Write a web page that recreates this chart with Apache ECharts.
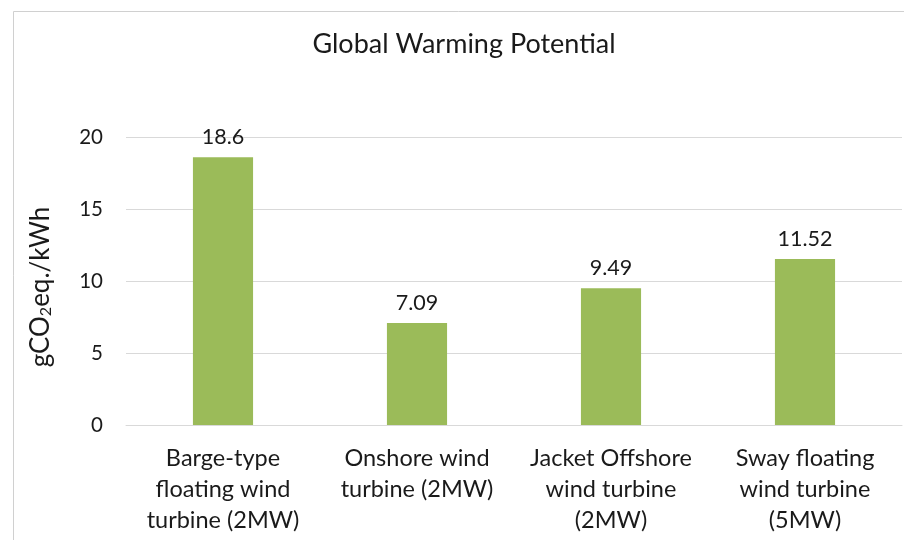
<!DOCTYPE html>
<html>
<head>
<meta charset="utf-8">
<script src="https://cdn.jsdelivr.net/npm/echarts@6/dist/echarts.min.js"></script>
<style>
html,body{margin:0;padding:0;background:#fff;}
#chart{width:904px;height:540px;}
</style>
</head>
<body>
<div id="chart"></div>
<script>
var chartTitle = 'Global Warming Potential';
var yAxisTitle = 'gCO{sub|2}eq./kWh';
var categories = [
  'Barge-type\nfloating wind\nturbine (2MW)',
  'Onshore wind\nturbine (2MW)',
  'Jacket Offshore\nwind turbine\n(2MW)',
  'Sway floating\nwind turbine\n(5MW)'
];
var gwpValues = [18.6, 7.09, 9.49, 11.52];
var gwpLabels = ['18.6', '7.09', '9.49', '11.52'];
var yTicks = [0, 5, 10, 15, 20];

var FONT = 'Lato';
var TXT = '#1a1a1a';
var chart = echarts.init(document.getElementById('chart'), null, {renderer: 'canvas'});
chart.setOption({
  backgroundColor: '#ffffff',
  animation: false,
  title: {
    text: chartTitle,
    left: 459, top: 26,
    textAlign: 'center',
    textStyle: {fontFamily: FONT, fontSize: 27, fontWeight: 'normal', color: TXT}
  },
  graphic: [{
    type: 'polyline',
    shape: {points: [[13.5, 540], [13.5, 11.5], [904, 11.5]]},
    style: {stroke: '#d0d0d0', lineWidth: 1, fill: null},
    silent: true
  }],
  grid: {left: 126, right: 2, top: 137, bottom: 115, containLabel: false},
  xAxis: {
    type: 'category',
    data: categories,
    axisLine: {show: true, lineStyle: {color: '#d9d9d9', width: 1}},
    axisTick: {show: false},
    axisLabel: {
      interval: 0, margin: 18,
      fontFamily: FONT, fontSize: 23.5, color: TXT, lineHeight: 31, align: 'center'
    }
  },
  yAxis: {
    type: 'value',
    min: yTicks[0], max: yTicks[yTicks.length - 1], interval: 5,
    name: yAxisTitle,
    nameLocation: 'middle',
    nameGap: 72,
    nameRotate: 90,
    nameTextStyle: {
      fontFamily: FONT, fontSize: 26, color: TXT,
      padding: [0, 12, 0, 0],
      rich: {sub: {fontFamily: FONT, fontSize: 16, color: TXT, verticalAlign: 'bottom', padding: [9, 0, 0, 0]}}
    },
    axisLine: {show: false},
    axisTick: {show: false},
    axisLabel: {margin: 23, fontFamily: FONT, fontSize: 20.5, color: TXT},
    splitLine: {show: true, lineStyle: {color: '#d9d9d9', width: 1}}
  },
  series: [{
    type: 'bar',
    data: gwpValues,
    barWidth: '31%',
    itemStyle: {color: '#9bbb59'},
    label: {
      show: true, position: 'top', distance: 9,
      fontFamily: FONT, fontSize: 21.5, color: TXT,
      formatter: function (p) { return gwpLabels[p.dataIndex]; }
    }
  }]
});
</script>
</body>
</html>
